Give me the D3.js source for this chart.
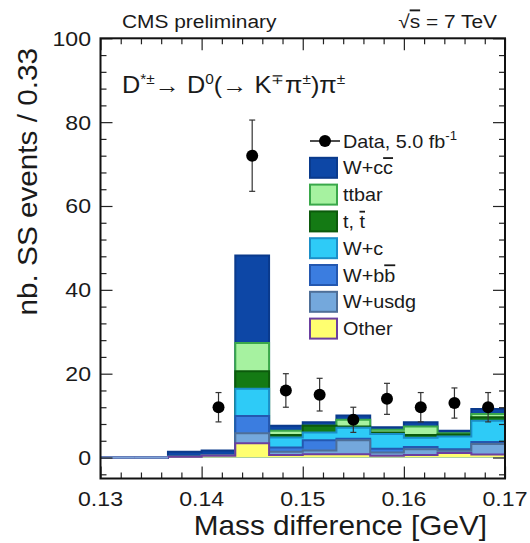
<!DOCTYPE html>
<html>
<head>
<meta charset="utf-8">
<script src="https://cdn.jsdelivr.net/npm/d3@7"></script>
<style>
  html, body { margin: 0; padding: 0; background: #ffffff; }
  svg { display: block; }
</style>
</head>
<body>
<svg id="chart" width="530" height="543"></svg>
<script>
// ---- Histogram binning (D* - D0 mass difference, GeV) ----
const binEdges = [0.13, 0.13333, 0.13667, 0.14, 0.14333, 0.14667, 0.15,
                  0.15333, 0.15667, 0.16, 0.16333, 0.16667, 0.17];

// ---- Simulated samples, events per bin (stacked bottom to top) ----
const otherVals     = [0, 0, 0.2, 0.4, 3.4, 0.6, 0.8, 0.8, 0.4, 0.6, 1.1, 0.7];
const wUsdgVals     = [0, 0, 0,   0.2, 2.4, 0.8, 0.9, 3.3, 0.8, 1.4, 0.5, 2.5];
const wBbVals       = [0, 0, 0,   0,   4.1, 1.0, 2.4, 0.4, 0.9, 0.5, 0.4, 0.5];
const wCVals        = [0, 0, 0,   0,   6.5, 2.4, 1.9, 2.6, 3.5, 2.2, 3.0, 5.1];
const singleTopVals = [0, 0, 0,   0,   4.2, 0.6, 1.6, 0.3, 0.4, 0.7, 0.5, 0.8];
const ttbarVals     = [0, 0, 0,   0,   6.7, 1.0, 0,   1.6, 0.6, 2.0, 0.3, 0.8];
const wCcVals       = [0, 0, 1.2, 1.1, 20.9, 1.2, 0.8, 1.0, 0.6, 1.0, 0.6, 1.2];

// ---- Observed data ----
const dataX   = [0.14167, 0.145, 0.14833, 0.15167, 0.155, 0.15833, 0.16167, 0.165, 0.16833];
const dataY   = [12, 72, 16, 15, 9, 14, 12, 13, 12];
const dataErr = [3.5, 8.5, 4.0, 3.9, 3.0, 3.7, 3.5, 3.6, 3.5];

// ---- Axis ticks ----
const xTickVals   = [0.13, 0.14, 0.15, 0.16, 0.17];
const xTickLabels = ["0.13", "0.14", "0.15", "0.16", "0.17"];
const yTickVals   = [0, 20, 40, 60, 80, 100];
const yTickLabels = ["0", "20", "40", "60", "80", "100"];

// ---- Sample styles (same order as the value arrays, bottom first) ----
const layerStyles = [
  { fill: "#ffff70", line: "#6b3fa0" },  // Other
  { fill: "#74a8dc", line: "#4e6f98" },  // W+usdg
  { fill: "#3b7de0", line: "#2458b0" },  // W+bb
  { fill: "#2ecbf7", line: "#1b8fc8" },  // W+c
  { fill: "#147a14", line: "#0c5a0c" },  // single top
  { fill: "#a6f2a0", line: "#3aa84a" },  // ttbar
  { fill: "#0d47a6", line: "#0a3a8c" }   // W+cc
];
const layerValues = [otherVals, wUsdgVals, wBbVals, wCVals, singleTopVals, ttbarVals, wCcVals];

// Legend entries, top to bottom; each label is a list of [text, overline?]
const legendLabels = [
  [["W+c", false], ["c", true]],
  [["ttbar", false]],
  [["t, ", false], ["t", true]],
  [["W+c", false]],
  [["W+b", false], ["b", true]],
  [["W+usdg", false]],
  [["Other", false]]
];
const legendStyleIndex = [6, 5, 4, 3, 2, 1, 0];

const FONT = "'Liberation Sans', Arial, Helvetica, sans-serif";
const SX = 1.1;           // horizontal stretch of the lettering
const INK = "#1a1a1a";

const svg = d3.select("#chart");

const x = d3.scaleLinear().domain([0.13, 0.17]).range([100.5, 505]);
const y = d3.scaleLinear().domain([-5, 100]).range([478.5, 38.3]);

function txt(parent, px, py, size, anchor, rot) {
  return parent.append("text")
    .attr("transform", `translate(${px},${py})` + (rot ? ` rotate(${rot})` : "") + ` scale(${SX},1)`)
    .attr("font-family", FONT)
    .attr("font-size", size)
    .attr("text-anchor", anchor)
    .attr("fill", INK);
}

// ---- Stacked histogram ----
const cumul = [];
layerValues.forEach((vals, k) => {
  cumul.push(vals.map((v, i) => v + (k > 0 ? cumul[k - 1][i] : 0)));
});

function stepPoints(c) {
  const pts = [[binEdges[0], 0]];
  c.forEach((v, i) => { pts.push([binEdges[i], v]); pts.push([binEdges[i + 1], v]); });
  pts.push([binEdges[binEdges.length - 1], 0]);
  return pts;
}

const area = d3.area().x(d => x(d[0])).y0(y(0)).y1(d => y(d[1]));
const line = d3.line().x(d => x(d[0])).y(d => y(d[1]));

const histG = svg.append("g");
for (let k = cumul.length - 1; k >= 0; k--) {
  const pts = stepPoints(cumul[k]);
  histG.append("path").attr("d", area(pts)).attr("fill", layerStyles[k].fill);
  histG.append("path").attr("d", line(pts))
    .attr("fill", "none")
    .attr("stroke", layerStyles[k].line)
    .attr("stroke-width", 2);
}
// baseline for empty bins
const total = cumul[cumul.length - 1];
total.forEach((v, i) => {
  if (v === 0) {
    histG.append("line")
      .attr("x1", x(binEdges[i])).attr("x2", x(binEdges[i + 1]))
      .attr("y1", y(0)).attr("y2", y(0))
      .attr("stroke", "#7da3d6").attr("stroke-width", 2);
  }
});

// ---- Frame and ticks on all four sides ----
const minorY = d3.range(-4, 100, 4).filter(v => v % 20 !== 0);
const minorX = d3.range(1, 20).filter(i => i % 5 !== 0).map(i => 0.13 + i * 0.002);

function tickAxis(gen, scale, vals, size, transform) {
  const g = svg.append("g").attr("transform", transform)
    .call(gen(scale).tickValues(vals).tickSize(-size).tickFormat(""));
  g.select(".domain").remove();
  g.selectAll(".tick line").attr("stroke", "#222").attr("stroke-width", 1.2);
}
const [xl, xr] = x.range();
const [yb, yt] = y.range();
tickAxis(d3.axisLeft, y, yTickVals, 12, `translate(${xl},0)`);
tickAxis(d3.axisLeft, y, minorY, 6, `translate(${xl},0)`);
tickAxis(d3.axisRight, y, yTickVals, 12, `translate(${xr},0)`);
tickAxis(d3.axisRight, y, minorY, 6, `translate(${xr},0)`);
tickAxis(d3.axisBottom, x, xTickVals, 12, `translate(0,${yb})`);
tickAxis(d3.axisBottom, x, minorX, 6, `translate(0,${yb})`);
tickAxis(d3.axisTop, x, xTickVals, 12, `translate(0,${yt})`);
tickAxis(d3.axisTop, x, minorX, 6, `translate(0,${yt})`);

svg.append("rect")
  .attr("x", xl).attr("y", yt).attr("width", xr - xl).attr("height", yb - yt)
  .attr("fill", "none").attr("stroke", "#111").attr("stroke-width", 2);

// ---- Tick labels ----
yTickVals.forEach((v, i) => txt(svg, 91, y(v) + 7.5, 21, "end").text(yTickLabels[i]));
xTickVals.forEach((v, i) => txt(svg, x(v), 506, 21, "middle").text(xTickLabels[i]));

// ---- Axis titles ----
txt(svg, 487, 535, 27, "end").text("Mass difference [GeV]");
txt(svg, 37, 48, 27, "end", -90).text("nb. SS events / 0.33");

// ---- Header ----
txt(svg, 122, 27.5, 19, "start").text("CMS preliminary");
const energy = txt(svg, 497, 27.5, 19, "end");
energy.append("tspan").text("√");
energy.append("tspan").style("text-decoration", "overline").text("s");
energy.append("tspan").text(" = 7 TeV");

// ---- Decay channel ----
const decay = txt(svg, 122, 92.5, 23, "start");
const decayParts = [["D", 0], ["*±", 1], ["→ D", 0], ["0", 1], ["(→ K", 0], ["∓", 1], ["π", 0], ["±", 1], [")π", 0], ["±", 1]];
let shifted = false;
decayParts.forEach(([s, sup]) => {
  const ts = decay.append("tspan").text(s);
  if (sup && !shifted) { ts.attr("dy", -9).attr("font-size", 14); shifted = true; }
  else if (sup) { ts.attr("font-size", 14); }
  else if (shifted) { ts.attr("dy", 9); shifted = false; }
});

// ---- Legend ----
const legX = 310, legW = 27, legH = 20, legY0 = 141, legStep = 26.8;
const legG = svg.append("g");
legG.append("line").attr("x1", legX).attr("x2", legX + 30).attr("y1", legY0).attr("y2", legY0)
  .attr("stroke", "#111").attr("stroke-width", 1.5);
legG.append("circle").attr("cx", legX + 15).attr("cy", legY0).attr("r", 6).attr("fill", "#000");
const dataLab = txt(legG, legX + 33, legY0 + 6.5, 18, "start");
dataLab.append("tspan").text("Data, 5.0 fb");
dataLab.append("tspan").attr("dy", -8).attr("font-size", 12).text("-1");

legendLabels.forEach((parts, i) => {
  const cy = legY0 + legStep * (i + 1);
  const st = layerStyles[legendStyleIndex[i]];
  legG.append("rect")
    .attr("x", legX).attr("y", cy - legH / 2).attr("width", legW).attr("height", legH)
    .attr("fill", st.fill).attr("stroke", st.line).attr("stroke-width", 2);
  const t = txt(legG, legX + 33, cy + 6.5, 18, "start");
  parts.forEach(([s, over]) => {
    const ts = t.append("tspan").text(s);
    if (over) ts.style("text-decoration", "overline");
  });
});

// ---- Data points with error bars ----
const dataG = svg.append("g");
dataX.forEach((dx, i) => {
  const px = x(dx);
  const lo = y(dataY[i] - dataErr[i]);
  const hi = y(dataY[i] + dataErr[i]);
  dataG.append("line").attr("x1", px).attr("x2", px).attr("y1", lo).attr("y2", hi)
    .attr("stroke", "#333").attr("stroke-width", 1.2);
  [lo, hi].forEach(cy => dataG.append("line")
    .attr("x1", px - 3).attr("x2", px + 3).attr("y1", cy).attr("y2", cy)
    .attr("stroke", "#333").attr("stroke-width", 1.2));
  dataG.append("circle").attr("cx", px).attr("cy", y(dataY[i])).attr("r", 6).attr("fill", "#000");
});
</script>
</body>
</html>
